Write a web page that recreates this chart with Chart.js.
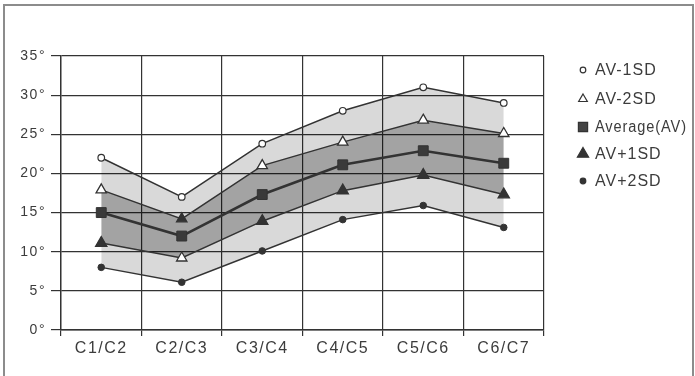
<!DOCTYPE html>
<html>
<head>
<meta charset="utf-8">
<script src="https://cdn.jsdelivr.net/npm/chart.js@4.4.0/dist/chart.umd.min.js"></script>
<style>
  body { margin: 0; background: #fff; overflow: hidden; }
  #wrap { position: relative; width: 695px; height: 376px; }
  #frame { position: absolute; left: 3px; top: 4px; width: 687px; height: 400px;
           border: 2px solid #8c8c8c; pointer-events: none; }
</style>
</head>
<body>
<div id="wrap">
  <canvas id="spineChart" width="695" height="376"></canvas>
  <div id="frame"></div>
</div>
<script>
const segments = ['C1/C2', 'C2/C3', 'C3/C4', 'C4/C5', 'C5/C6', 'C6/C7'];
const avMinus1SD = [22, 17, 23.8, 28, 31, 29];
const avMinus2SD = [17.9, 14.2, 21, 24, 26.8, 25.1];
const average = [15, 12, 17.3, 21.1, 22.9, 21.3];
const avPlus1SD = [11.1, 9.2, 13.9, 17.8, 19.8, 17.3];
const avPlus2SD = [8, 6.1, 10.1, 14.1, 15.9, 13.1];
const yTicks = [0, 5, 10, 15, 20, 25, 30, 35];

const ink = '#333';
Chart.defaults.font.family = '"Liberation Sans", Arial, sans-serif';
Chart.defaults.color = '#3c3c3c';

// legend drawn by hand so it sits where the printed one does
const sideLegend = {
    id: 'sideLegend',
    beforeDraw(chart) {
        chart.ctx.letterSpacing = '1.5px';
    },
    afterDraw(chart) {
        const c = chart.ctx;
        const rows = [70, 99, 127, 154, 181];
        const marks = [
            { pointStyle: 'circle', radius: 2.8, fill: '#fff' },
            { pointStyle: 'triangle', radius: 5, fill: '#fff' },
            { pointStyle: 'rect', radius: 6.5, fill: '#444' },
            { pointStyle: 'triangle', radius: 6.5, fill: '#333' },
            { pointStyle: 'circle', radius: 2.8, fill: '#333' }
        ];
        c.save();
        c.letterSpacing = '1px';
        chart.data.datasets.forEach((ds, i) => {
            c.fillStyle = marks[i].fill;
            c.strokeStyle = ink;
            c.lineWidth = 1.2;
            Chart.helpers.drawPoint(c, { pointStyle: marks[i].pointStyle, radius: marks[i].radius, rotation: 0, borderWidth: 1.2 }, 583, rows[i]);
            c.fillStyle = '#3c3c3c';
            c.font = '16px "Liberation Sans", Arial, sans-serif';
            c.textBaseline = 'middle';
            c.textAlign = 'left';
            c.fillText(ds.label, 595, rows[i] + 1, 92);
        });
        c.restore();
    }
};

const spineCtx = document.getElementById('spineChart').getContext('2d');
new Chart(spineCtx, {
    type: 'line',
    data: {
        labels: segments,
        datasets: [{
            label: 'AV-1SD',
            data: avMinus1SD,
            borderColor: ink,
            borderWidth: 1.5,
            pointStyle: 'circle',
            pointRadius: 3.3,
            pointBackgroundColor: '#fff',
            pointBorderColor: ink,
            pointBorderWidth: 1.2,
            fill: false
        }, {
            label: 'AV-2SD',
            data: avMinus2SD,
            borderColor: ink,
            borderWidth: 1.5,
            pointStyle: 'triangle',
            pointRadius: 6,
            // the printed figure swaps the triangle markers at C2/C3
            pointBackgroundColor: ctx => ctx.dataIndex === 1 ? ink : '#fff',
            pointBorderColor: ink,
            pointBorderWidth: 1.3,
            backgroundColor: 'rgba(0,0,0,0.25)',
            fill: 3
        }, {
            label: 'Average(AV)',
            data: average,
            borderColor: ink,
            borderWidth: 2.6,
            pointStyle: 'rect',
            pointRadius: 7,
            pointBackgroundColor: '#3a3a3a',
            pointBorderColor: ink,
            pointBorderWidth: 1,
            fill: false
        }, {
            label: 'AV+1SD',
            data: avPlus1SD,
            borderColor: ink,
            borderWidth: 1.5,
            pointStyle: 'triangle',
            pointRadius: ctx => ctx.dataIndex === 1 ? 6 : 6.5,
            pointBackgroundColor: ctx => ctx.dataIndex === 1 ? '#fff' : ink,
            pointBorderColor: ink,
            pointBorderWidth: 1.3,
            fill: false
        }, {
            label: 'AV+2SD',
            data: avPlus2SD,
            borderColor: ink,
            borderWidth: 1.5,
            pointStyle: 'circle',
            pointRadius: 3.3,
            pointBackgroundColor: ink,
            pointBorderColor: ink,
            pointBorderWidth: 1,
            backgroundColor: 'rgba(0,0,0,0.15)',
            fill: 0
        }]
    },
    options: {
        responsive: false,
        animation: false,
        layout: { padding: { top: 56, right: 151, left: 0, bottom: 0 } },
        plugins: {
            legend: { display: false },
            tooltip: { enabled: false },
            filler: { drawTime: 'beforeDatasetsDraw' }
        },
        scales: {
            x: {
                offset: true,
                grid: { offset: true, color: ink, lineWidth: 1.2, tickLength: 6 },
                border: { color: ink, width: 1.4 },
                ticks: { font: { size: 16 }, padding: 3, maxRotation: 0 },
                afterFit: s => { s.height = 46; }
            },
            y: {
                min: 0,
                max: 35,
                afterBuildTicks: s => { s.ticks = yTicks.map(v => ({ value: v })); },
                grid: { color: ink, lineWidth: 1.2, tickLength: 10 },
                border: { color: ink, width: 1.4 },
                ticks: { font: { size: 14 }, padding: 5, callback: v => v + '°' },
                afterFit: s => { s.width = 61; }
            }
        }
    },
    plugins: [sideLegend]
});
</script>
</body>
</html>
